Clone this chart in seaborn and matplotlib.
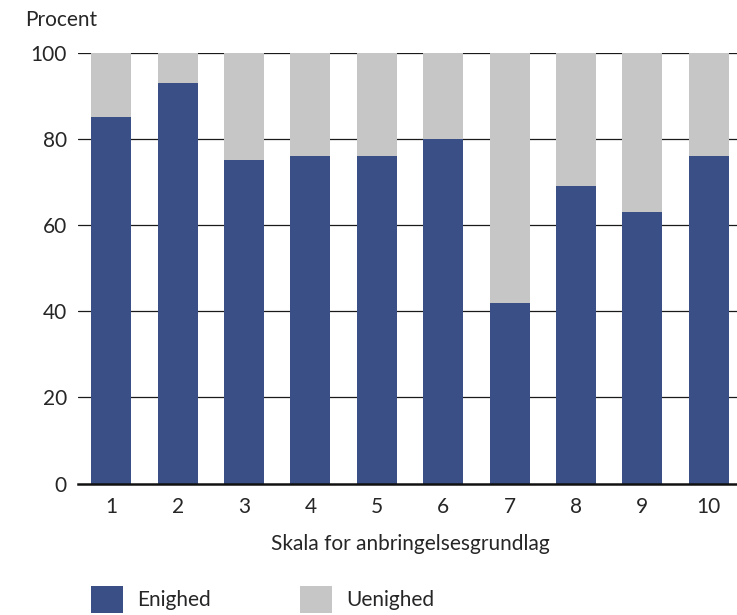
import matplotlib
matplotlib.use("Agg")
import matplotlib.pyplot as plt
import seaborn as sns
import pandas as pd
from matplotlib.patches import Patch

categories = ["1", "2", "3", "4", "5", "6", "7", "8", "9", "10"]
enighed = [85, 93, 75, 76, 76, 80, 42, 69, 63, 76]
uenighed = [15, 7, 25, 24, 24, 20, 58, 31, 37, 24]
yticks = [0, 20, 40, 60, 80, 100]

blue = "#3a4f86"
gray = "#c6c6c6"
txt = "#262626"
FS = 15

sns.set_theme(style="white")
plt.rcParams["font.family"] = ["Lato", "DejaVu Sans"]

df = pd.DataFrame({"kat": categories, "enighed": enighed, "uenighed": uenighed})
df["total"] = df["enighed"] + df["uenighed"]

fig = plt.figure(figsize=(7.37, 6.15), dpi=100)
ax = fig.add_axes([78 / 737, 1 - 483.5 / 615, (742 - 78) / 737, (483.5 - 52.7) / 615])

sns.barplot(data=df, x="kat", y="total", color=gray, width=0.6, saturation=1,
            linewidth=0, edgecolor="none", ax=ax, zorder=3)
sns.barplot(data=df, x="kat", y="enighed", color=blue, width=0.6, saturation=1,
            linewidth=0, edgecolor="none", ax=ax, zorder=4)

ax.set_ylim(0, 100)
ax.set_xlim(-0.5, 9.5)
ax.set_yticks(yticks)
ax.set_yticklabels([str(v) for v in yticks], fontsize=FS, color=txt)
ax.set_xticklabels(categories, fontsize=FS, color=txt)
for v in yticks[1:]:
    ax.axhline(v, color="#1a1a1a", lw=0.9, zorder=1)
ax.tick_params(axis="y", length=0, pad=8)
ax.tick_params(axis="x", length=0, pad=10)
for s in ["left", "right", "top"]:
    ax.spines[s].set_visible(False)
ax.spines["bottom"].set_color("#111111")
ax.spines["bottom"].set_linewidth(1.8)
ax.spines["bottom"].set_zorder(5)
ax.set_ylabel("")
ax.set_xlabel("Skala for anbringelsesgrundlag", fontsize=FS, color=txt, labelpad=12)

fig.text(25 / 737, 1 - 20 / 615, "Procent", fontsize=FS, color=txt, va="center", ha="left")

handles = [Patch(facecolor=blue, edgecolor="none", label="Enighed"),
           Patch(facecolor=gray, edgecolor="none", label="Uenighed")]
fig.legend(handles=handles, loc="lower left", bbox_to_anchor=(91 / 737, 2 / 615), ncol=2,
           frameon=False, handlelength=1.54, handleheight=1.6, borderpad=0,
           borderaxespad=0, handletextpad=0.67, columnspacing=4.3, labelcolor=txt,
           prop={"size": FS})

fig.savefig("out.png", dpi=100)
